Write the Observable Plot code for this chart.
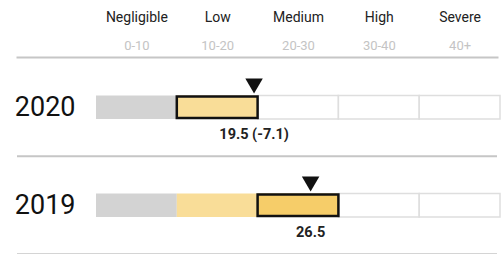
<!DOCTYPE html>
<html>
<head>
<meta charset="utf-8">
<script src="https://cdn.jsdelivr.net/npm/d3@7"></script>
<script src="https://cdn.jsdelivr.net/npm/@observablehq/plot@0.6"></script>
<style>
  html, body { margin: 0; padding: 0; background: #fff; }
  #chart svg { display: block; }
</style>
</head>
<body>
<div id="chart"></div>
<script>
const categories = ["Negligible", "Low", "Medium", "High", "Severe"];
const rangeLabels = ["0-10", "10-20", "20-30", "30-40", "40+"];
const bandStarts = [0, 10, 20, 30, 40];
const bandEnds = [10, 20, 30, 40, 50];
const categoryColors = ["#d3d3d3", "#f9dd98", "#f6cd69", "#f2a65a", "#e56b4e"];
const years = ["2020", "2019"];
const scores = [19.5, 26.5];
const changes = [-7.1, null];

const catIndex = v => Math.min(categories.length - 1, bandStarts.filter(s => v >= s).length - 1);

const header = categories.map((c, j) => ({
  name: c, range: rangeLabels[j], mid: (bandStarts[j] + bandEnds[j]) / 2
}));

const rows = years.map((y, i) => ({
  year: y, score: scores[i], change: changes[i], cur: catIndex(scores[i])
}));

const segments = rows.flatMap(r => categories.map((c, j) => ({
  year: r.year, x1: bandStarts[j], x2: bandEnds[j], filled: j <= r.cur, color: categoryColors[j]
})));

const current = rows.map(r => ({
  year: r.year, x1: bandStarts[r.cur], x2: bandEnds[r.cur], color: categoryColors[r.cur]
}));

const chart = Plot.plot({
  width: 504,
  height: 254,
  marginTop: 57,
  marginBottom: 0,
  marginLeft: 96,
  marginRight: 4,
  style: { fontFamily: "Roboto, sans-serif", background: "#fff" },
  x: { domain: [0, 50], axis: null },
  y: { domain: years, padding: 0 },
  marks: [
    Plot.frame({ anchor: "top", stroke: "#c6c6c6", strokeWidth: 2, insetLeft: -79, insetRight: 3 }),
    Plot.ruleY(years, { y: d => d, dy: 48.8, stroke: "#c6c6c6", strokeWidth: 2, insetLeft: -79, insetRight: 3 }),
    Plot.text(header, { x: "mid", text: "name", frameAnchor: "top", dy: -45, fontSize: 14, fill: "#222" }),
    Plot.text(header, { x: "mid", text: "range", frameAnchor: "top", dy: -17, fontSize: 13, fill: "#c4c4c4" }),
    Plot.barX(segments, {
      x1: "x1", x2: "x2", y: "year",
      fill: d => d.filled ? d.color : "#fff",
      stroke: d => d.filled ? "none" : "#dedede",
      strokeWidth: 1.5,
      insetTop: 37.5, insetBottom: 37
    }),
    Plot.barX(current, {
      x1: "x1", x2: "x2", y: "year", fill: "color", stroke: "#111", strokeWidth: 2.5,
      insetTop: 38.5, insetBottom: 38
    }),
    Plot.dot(rows, { x: "score", y: "year", symbol: "triangle", rotate: 180, r: 6.5, fill: "#111", stroke: "none", dy: -24 }),
    Plot.text(rows, {
      x: "score", y: "year", dy: 27, fontSize: 14.5, fontWeight: "bold", fill: "#222",
      text: d => d.change == null ? `${d.score}` : `${d.score} (${d.change})`
    }),
    Plot.axisY({ tickSize: 0, tickPadding: 21, fontSize: 27, label: null, fill: "#111", color: "#111" })
  ]
});
document.getElementById("chart").append(chart);
</script>
</body>
</html>
